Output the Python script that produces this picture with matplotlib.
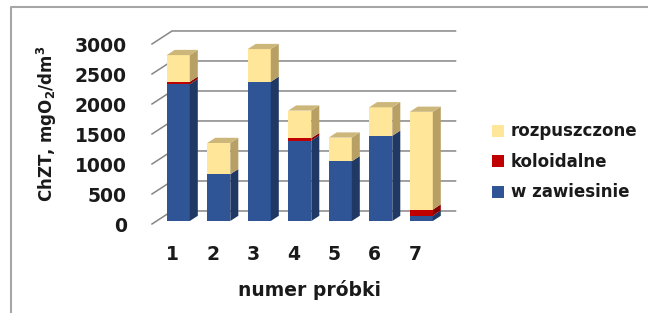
import matplotlib
matplotlib.use("Agg")
import matplotlib.pyplot as plt
from matplotlib.patches import Rectangle, Polygon, Patch
from matplotlib.lines import Line2D

# data
samples = [1, 2, 3, 4, 5, 6, 7]
w_zawiesinie = [2280, 780, 2320, 1340, 995, 1420, 90]
koloidalne = [40, 0, 0, 40, 0, 0, 100]
rozpuszczone = [445, 520, 545, 460, 395, 475, 1630]
yticks = [0, 500, 1000, 1500, 2000, 2500, 3000]

# name, values, front colour, side colour, top colour
series = [
    ("w zawiesinie", w_zawiesinie, "#2F5597", "#1F3864", "#4A6FB5"),
    ("koloidalne", koloidalne, "#C00000", "#8A0000", "#D83030"),
    ("rozpuszczone", rozpuszczone, "#FFE699", "#B8A064", "#CDB679"),
]

plt.rcParams["font.family"] = ["DejaVu Sans"]
plt.rcParams["mathtext.default"] = "bf"

fig = plt.figure(figsize=(6.48, 3.13), dpi=100)
ax = fig.add_axes([152 / 648, 1 - 224 / 313, 283.5 / 648, 180 / 313])
ax.set_xlim(0.5, 7.5)
ax.set_ylim(0, 3000)

# fake 3D: oblique depth vector of the floor
Dx, Dy = 0.494, 217
f0, f1 = 0.3, 0.7          # bar front / back depth fraction
bw = 0.57
oy = 50                    # vertical lift of the bar fronts

# back wall gridlines + left wall edges
for v in yticks:
    ax.plot([0.5, 0.5 + Dx, 7.5 + Dx], [v, v + Dy, v + Dy],
            color="#868686", lw=1.1, clip_on=False, zorder=1)

ddx, ddy = (f1 - f0) * Dx, (f1 - f0) * Dy
for i, x in enumerate(samples):
    xl = x + f0 * Dx - bw / 2
    xr = xl + bw
    base = 0
    stack = [s for s in series if s[1][i] > 0]
    for k, (name, vals, front, side, top) in enumerate(stack):
        y0 = base + oy
        y1 = base + vals[i] + oy
        ax.add_patch(Rectangle((xl, y0), bw, vals[i], facecolor=front,
                               edgecolor="none", clip_on=False, zorder=3))
        ax.add_patch(Polygon([(xr, y0), (xr + ddx, y0 + ddy),
                              (xr + ddx, y1 + ddy), (xr, y1)],
                             closed=True, facecolor=side, edgecolor="none",
                             clip_on=False, zorder=3))
        if k == len(stack) - 1:
            ax.add_patch(Polygon([(xl, y1), (xr, y1), (xr + ddx, y1 + ddy),
                                  (xl + ddx, y1 + ddy)],
                                 closed=True, facecolor=top, edgecolor="none",
                                 clip_on=False, zorder=3))
        base += vals[i]

for s in ax.spines.values():
    s.set_visible(False)
ax.patch.set_visible(False)
ax.set_yticks(yticks)
ax.set_xticks(samples)
ax.tick_params(length=0, labelsize=13.5, colors="#1a1a1a")
ax.tick_params(axis="y", pad=18)
ax.tick_params(axis="x", pad=15)
for lab in ax.get_xticklabels() + ax.get_yticklabels():
    lab.set_fontweight("bold")

fig.text(47 / 648, 1 - 124 / 313, "ChZT, mgO$_2$/dm$^3$", rotation=90,
         ha="center", va="center", fontsize=12, fontweight="bold",
         color="#1a1a1a")
fig.text(310 / 648, 1 - 290 / 313, "numer próbki", ha="center", va="center",
         fontsize=13.5, fontweight="bold", color="#1a1a1a")

handles = [Patch(facecolor=s[2], edgecolor="none", label=s[0])
           for s in reversed(series)]
fig.legend(handles=handles, loc="center left",
           bbox_to_anchor=(492 / 648, 1 - 162 / 313), frameon=False,
           borderpad=0, borderaxespad=0, handlelength=0.72, handleheight=0.72,
           handletextpad=0.4, labelspacing=0.75,
           prop={"size": 12, "weight": "bold"}, labelcolor="#1a1a1a")

# outer frame (only left and top edges are visible)
fig.add_artist(Line2D([11 / 648, 11 / 648, 1], [0, 1 - 7 / 313, 1 - 7 / 313],
                      transform=fig.transFigure, color="#A6A6A6", lw=1.5))

fig.savefig("out.png", dpi=100)
